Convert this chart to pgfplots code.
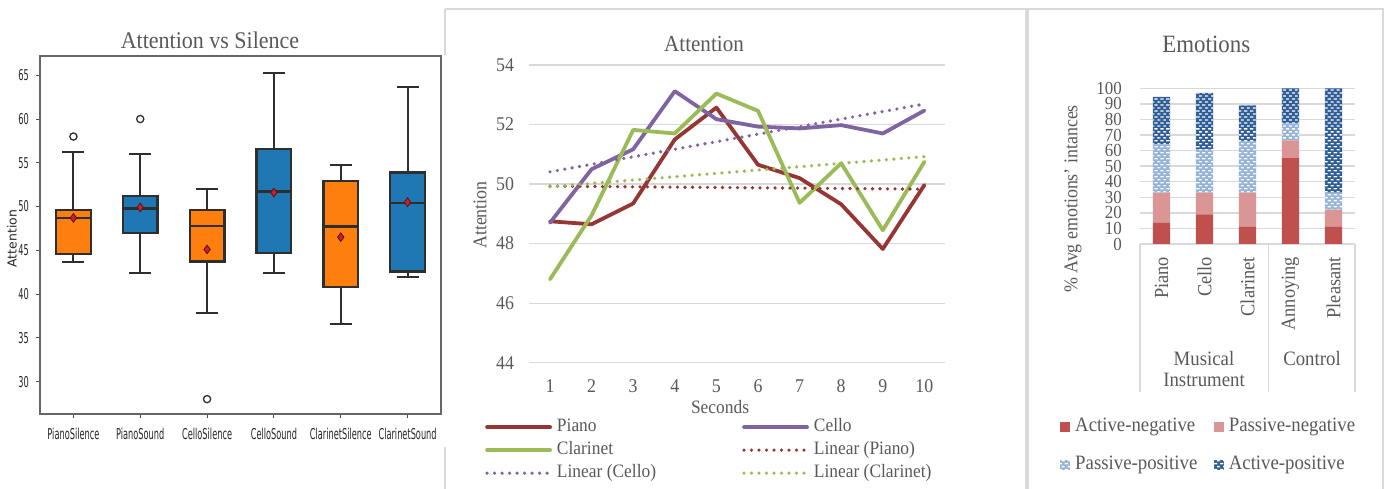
\documentclass[border=0pt]{standalone}
\usepackage{pgfplots}
\pgfplotsset{compat=1.18}
\usepgfplotslibrary{statistics}
\usetikzlibrary{patterns}
\usepackage{fontspec}
\setmainfont{Liberation Serif}[FakeStretch=0.92]
\newfontfamily\boxfont{DejaVu Sans}[FakeStretch=0.55]
\newfontfamily\boxfontn{DejaVu Sans}
\definecolor{textgray}{HTML}{595959}
\definecolor{gridgray}{HTML}{D9D9D9}
\definecolor{bordergray}{HTML}{D9D9D9}
\definecolor{pianoC}{HTML}{963634}
\definecolor{celloC}{HTML}{8064A2}
\definecolor{clarC}{HTML}{9BBB59}
\definecolor{boxorange}{HTML}{FF7F0E}
\definecolor{boxblue}{HTML}{1F77B4}
\definecolor{boxedge}{HTML}{2E2E2E}
\definecolor{meanred}{HTML}{C8202C}
\definecolor{meanedge}{HTML}{5A1010}
\definecolor{anC}{HTML}{C0504D}
\definecolor{pnC}{HTML}{D99694}
\definecolor{ppC}{HTML}{95B3D7}
\definecolor{apC}{HTML}{2F5D95}
\pgfdeclarepatternformonly{whitedash}{\pgfqpoint{-0.1pt}{-0.1pt}}{\pgfqpoint{6.1pt}{6.1pt}}{\pgfqpoint{6pt}{6pt}}{%
  \pgfpathrectangle{\pgfqpoint{0.6pt}{0.8pt}}{\pgfqpoint{3.4pt}{1.3pt}}%
  \pgfpathrectangle{\pgfqpoint{3.6pt}{3.8pt}}{\pgfqpoint{2.4pt}{1.3pt}}%
  \pgfpathrectangle{\pgfqpoint{0pt}{3.8pt}}{\pgfqpoint{0.6pt}{1.3pt}}%
  \pgfusepath{fill}}
\pgfplotsset{mybox/.style={solid, draw=boxedge, line width=2.2bp, fill=#1, mark=o, mark size=3.6bp, mark options={solid, line width=1.3bp, draw=boxedge, fill=none}}}
\begin{document}
\begin{tikzpicture}
\useasboundingbox (0bp,0bp) rectangle (1385bp,489bp);
% panel borders
\draw[bordergray, line width=1.5bp] (445bp,480bp) -- (1026bp,480bp) -- (1026bp,0bp);
\draw[bordergray, line width=1.5bp] (445bp,480bp) -- (445bp,434bp);
\draw[bordergray, line width=1.5bp] (445bp,42bp) -- (445bp,0bp);
\draw[bordergray, line width=1.5bp] (1028bp,0bp) -- (1028bp,480bp) -- (1383bp,480bp) -- (1383bp,0bp);

% ---------------- Panel 1: box plots ----------------
\begin{axis}[at={(40bp,75bp)}, anchor=south west, scale only axis,
  width=401bp, height=358bp,
  xmin=0.5, xmax=6.5, ymin=26.3, ymax=67.2,
  xtick={1,2,3,4,5,6},
  xticklabels={PianoSilence,PianoSound,CelloSilence,CelloSound,ClarinetSilence,ClarinetSound},
  ytick={30,35,40,45,50,55,60,65},
  /pgf/number format/assume math mode=true,
  tick align=outside, xtick pos=left, ytick pos=left,
  major tick length=4bp,
  tick style={draw=black!70, line width=1bp},
  axis line style={draw=black!60, line width=1.3bp},
  ticklabel style={font=\boxfont\fontsize{15}{16}\selectfont, text=black!85, inner sep=0bp},
  yticklabel style={xshift=-7bp},
  xticklabel style={yshift=-10bp},
  ylabel={Attention},
  ylabel style={font=\boxfontn\fontsize{12.5}{13}\selectfont, text=black!85, at={(axis description cs:-0.0698,0.49)}, anchor=center},
  title={Attention vs Silence},
  title style={font=\fontsize{24}{28}\selectfont, text=textgray, at={(axis description cs:0.424,1.028)}, anchor=center},
  boxplot/draw direction=y,
  boxplot/box extend=0.52, boxplot/whisker extend=0.33,
  boxplot/every box/.style={draw=boxedge, line width=2.4bp},
  boxplot/every median/.style={draw=boxedge, line width=2.4bp},
  boxplot/every whisker/.style={draw=boxedge, line width=2bp},
]
\addplot+[boxplot prepared={draw position=1, lower whisker=43.7, lower quartile=44.6, median=48.7, upper quartile=49.6, upper whisker=56.2}, mybox=boxorange] table[row sep=\\, y index=0, header=false] {58\\};
\addplot+[boxplot prepared={draw position=2, lower whisker=42.4, lower quartile=47.0, median=49.8, upper quartile=51.2, upper whisker=56.0}, mybox=boxblue] table[row sep=\\, y index=0, header=false] {60\\};
\addplot+[boxplot prepared={draw position=3, lower whisker=37.8, lower quartile=43.7, median=47.8, upper quartile=49.6, upper whisker=52.0}, mybox=boxorange] table[row sep=\\, y index=0, header=false] {28\\};
\addplot+[boxplot prepared={draw position=4, lower whisker=42.4, lower quartile=44.7, median=51.7, upper quartile=56.6, upper whisker=65.3}, mybox=boxblue] coordinates {};
\addplot+[boxplot prepared={draw position=5, lower whisker=36.6, lower quartile=40.8, median=47.7, upper quartile=52.9, upper whisker=54.8}, mybox=boxorange] coordinates {};
\addplot+[boxplot prepared={draw position=6, lower whisker=41.9, lower quartile=42.6, median=50.4, upper quartile=53.9, upper whisker=63.7}, mybox=boxblue] coordinates {};
\addplot[only marks, mark=diamond*, mark size=4.3bp, mark options={solid, fill=meanred, draw=meanedge, line width=0.8bp}] coordinates {(1,48.7)(2,49.9)(3,45.1)(4,51.6)(5,46.5)(6,50.5)};
\end{axis}

% ---------------- Panel 2: Attention lines ----------------
\begin{axis}[at={(529.2bp,126.3bp)}, anchor=south west, scale only axis,
  width=416bp, height=297.7bp,
  xmin=0.5, xmax=10.5, ymin=44, ymax=54,
  xtick={1,2,3,4,5,6,7,8,9,10}, ytick={44,46,48,50,52,54},
  /pgf/number format/assume math mode=true,
  ymajorgrids, grid style={draw=gridgray, line width=1.3bp},
  axis line style={draw=none}, major tick length=0bp,
  ticklabel style={font=\fontsize{19.5}{20}\selectfont, text=textgray, inner sep=0bp},
  yticklabel style={xshift=-15bp}, xticklabel style={yshift=-17bp},
  xlabel={Seconds},
  xlabel style={font=\fontsize{19}{20}\selectfont, text=textgray, at={(axis description cs:0.4587,-0.1488)}, anchor=center},
  ylabel={Attention},
  ylabel style={font=\fontsize{19.5}{20}\selectfont, text=textgray, at={(axis description cs:-0.1183,0.496)}, anchor=center},
  title={Attention},
  title style={font=\fontsize{23}{26}\selectfont, text=textgray, at={(axis description cs:0.4202,1.0503)}, anchor=center},
  legend columns=2,
  legend cell align=left,
  legend style={at={(axis description cs:-0.1063,-0.184)}, anchor=north west, draw=none, fill=none,
    inner sep=0bp, font=\fontsize{19}{20}\selectfont, text=textgray,
    nodes={inner sep=0bp, text height=14bp, text depth=5bp},
    row sep=4bp,
    /tikz/every odd column/.append style={column sep=5bp},
    /tikz/every even column/.append style={column sep=86bp}},
  legend image code/.code={\draw[#1] (0bp,0bp) -- (63bp,0bp);},
]
\addplot[pianoC, line width=3.8bp, line join=round, line cap=round] coordinates {(1,48.75)(2,48.65)(3,49.35)(4,51.5)(5,52.57)(6,50.65)(7,50.2)(8,49.32)(9,47.82)(10,49.97)};
\addlegendentry{Piano}
\addplot[celloC, line width=3.8bp, line join=round, line cap=round] coordinates {(1,48.7)(2,50.5)(3,51.17)(4,53.12)(5,52.18)(6,51.93)(7,51.87)(8,51.98)(9,51.7)(10,52.47)};
\addlegendentry{Cello}
\addplot[clarC, line width=3.8bp, line join=round, line cap=round] coordinates {(1,46.8)(2,48.95)(3,51.82)(4,51.7)(5,53.04)(6,52.46)(7,49.37)(8,50.7)(9,48.45)(10,50.75)};
\addlegendentry{Clarinet}
\addplot[pianoC, line width=3.6bp, line cap=round, dash pattern=on 0bp off 7.5bp] coordinates {(1,49.93)(10,49.83)};
\addlegendentry{Linear (Piano)}
\addplot[celloC, line width=3.6bp, line cap=round, dash pattern=on 0bp off 7.5bp] coordinates {(1,50.41)(10,52.69)};
\addlegendentry{Linear (Cello)}
\addplot[clarC, line width=3.6bp, line cap=round, dash pattern=on 0bp off 7.5bp] coordinates {(1,49.91)(10,50.92)};
\addlegendentry{Linear (Clarinet)}
\end{axis}

% ---------------- Panel 3: Emotions stacked bars ----------------
\begin{axis}[at={(1140bp,245bp)}, anchor=south west, scale only axis,
  width=215bp, height=155.7bp,
  ybar stacked, bar width=17.3bp,
  xmin=0.5, xmax=5.5, ymin=0, ymax=100,
  xtick={1,2,3,4,5}, xticklabels={Piano,Cello,Clarinet,Annoying,Pleasant},
  ytick={0,10,20,30,40,50,60,70,80,90,100},
  /pgf/number format/assume math mode=true,
  ymajorgrids, grid style={draw=gridgray, line width=1.3bp},
  axis line style={draw=none}, major tick length=0bp,
  ticklabel style={text=textgray, inner sep=0bp},
  yticklabel style={font=\fontsize{18.5}{19}\selectfont, xshift=-18bp},
  xticklabel style={font=\fontsize{20}{21}\selectfont, yshift=-13bp, rotate=90, anchor=east},
  ylabel={\% Avg emotions' intances},
  ylabel style={font=\fontsize{19.5}{20}\selectfont, text=textgray, at={(axis description cs:-0.3116,0.289)}, anchor=center},
  title={Emotions},
  title style={font=\fontsize{25}{28}\selectfont, text=textgray, at={(axis description cs:0.3084,1.246)}, anchor=center},
  legend columns=2,
  legend cell align=left,
  legend style={at={(axis description cs:-0.372,-1.1143)}, anchor=north west, draw=none, fill=none,
    inner sep=0bp, font=\fontsize{20.5}{21}\selectfont, text=textgray,
    nodes={inner sep=0bp, text height=14bp, text depth=5bp},
    row sep=19bp,
    /tikz/every odd column/.append style={column sep=5bp},
    /tikz/every even column/.append style={column sep=16.5bp}},
  legend image code/.code={\fill[#1] (0bp,-5bp) rectangle (10bp,5bp);},
]
\addplot[fill=anC, draw=none] coordinates {(1,13.5)(2,19)(3,11)(4,55.5)(5,11)};
\addlegendentry{Active-negative}
\addplot[fill=pnC, draw=none] coordinates {(1,19.5)(2,14)(3,22)(4,11)(5,11)};
\addlegendentry{Passive-negative}
\addplot[fill=ppC, draw=none, postaction={pattern=whitedash, pattern color=white}] coordinates {(1,31)(2,28)(3,33)(4,11)(5,11)};
\addlegendentry{Passive-positive}
\addplot[fill=apC, draw=none, postaction={pattern=whitedash, pattern color=white}] coordinates {(1,30.5)(2,36)(3,23)(4,22.5)(5,67)};
\addlegendentry{Active-positive}
\end{axis}
\draw[gridgray, line width=1.5bp] (1140bp,245bp) -- (1140bp,97bp);
\draw[gridgray, line width=1.5bp] (1268.5bp,245bp) -- (1268.5bp,97bp);
\draw[gridgray, line width=1.5bp] (1355bp,245bp) -- (1355bp,97bp);
\node[font=\fontsize{20.5}{21}\selectfont, text=textgray] at (1204bp,130bp) {Musical};
\node[font=\fontsize{20.5}{21}\selectfont, text=textgray] at (1204bp,109bp) {Instrument};
\node[font=\fontsize{20.5}{21}\selectfont, text=textgray] at (1312bp,130bp) {Control};
\end{tikzpicture}
\end{document}
